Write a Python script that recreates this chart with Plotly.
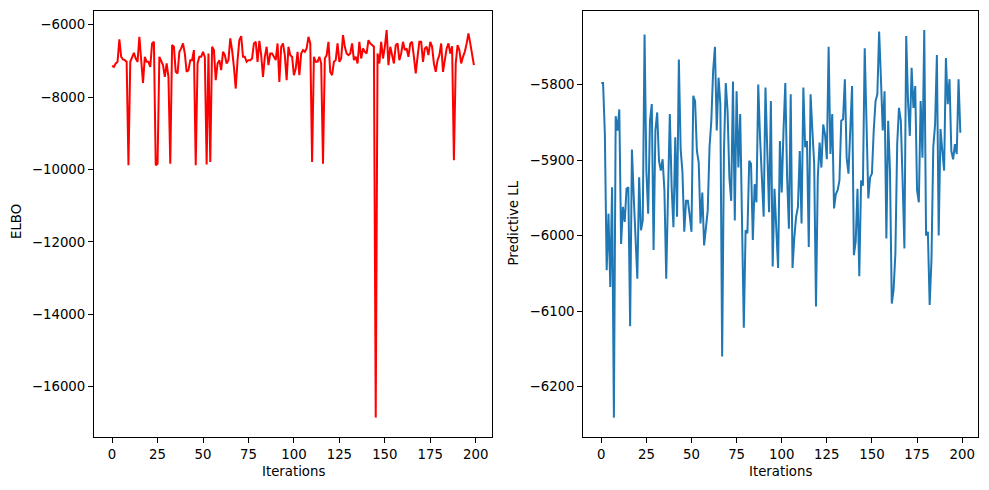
import plotly.graph_objects as go

iterations = list(range(200))

elbo = [
    -7140, -7166, -7074, -7028, -6410, -6890, -6964, -6982, -7028, -9886,
    -7028, -6890, -6779, -6936, -7028, -6337, -6982, -7609, -6890, -7028,
    -7028, -7166, -6521, -6475, -9886, -9840, -6890, -7028, -7120, -7443,
    -7074, -7443, -9840, -6567, -6613, -7305, -7351, -6752, -6659, -6521,
    -6798, -7305, -7259, -6982, -6982, -6705, -9886, -7074, -6890, -6890,
    -6752, -6890, -9859, -6798, -9794, -6613, -6705, -7535, -7074, -6982,
    -7259, -6752, -6844, -7074, -6982, -6383, -6705, -7166, -7766, -6982,
    -6429, -6318, -6890, -6890, -7028, -6982, -6982, -6936, -6521, -6475,
    -7028, -6447, -6844, -7443, -6890, -6613, -7120, -6798, -6798, -6890,
    -6982, -6521, -7581, -6613, -6521, -6844, -7535, -6613, -6844, -6890,
    -7397, -7213, -6752, -7397, -6798, -6705, -6752, -6659, -6337, -6521,
    -9794, -6890, -7028, -7028, -6890, -7074, -9840, -6936, -6844, -6475,
    -7305, -7397, -7028, -6982, -6521, -7028, -6936, -6291, -6613, -6798,
    -6844, -6798, -6521, -6982, -6890, -7074, -6475, -6936, -6659, -6752,
    -6798, -6429, -6521, -6567, -6613, -16850, -6798, -7074, -6475, -6936,
    -6613, -6152, -7120, -6613, -6890, -7074, -6567, -6521, -6982, -6798,
    -6475, -6705, -6659, -6890, -6521, -6475, -6890, -7351, -6890, -6475,
    -6475, -7028, -6659, -6613, -6844, -6475, -6613, -7074, -7305, -6982,
    -6844, -6521, -7305, -7028, -6659, -6521, -6798, -6600, -9748, -7074,
    -6567, -6705, -7074, -6890, -6752, -6521, -6244, -6521, -6798, -7120,
]

pred_ll = [
    -5798, -5798, -5866, -6046, -5971, -6068, -5936, -6241, -5842, -5861,
    -5833, -6011, -5962, -5982, -5938, -5936, -6120, -5886, -5949, -5997,
    -6057, -5923, -5993, -5980, -5734, -5914, -5971, -5848, -5826, -6019,
    -5861, -5837, -5901, -5914, -5899, -5940, -6057, -5945, -5839, -5936,
    -5989, -5870, -5975, -5767, -5886, -5916, -5995, -5954, -5954, -5973,
    -5995, -5815, -5822, -5888, -5903, -5984, -5943, -6013, -5989, -5967,
    -5883, -5848, -5782, -5750, -5861, -5791, -5826, -6160, -5888, -5798,
    -5835, -5923, -5954, -5796, -5980, -5809, -5910, -5839, -5980, -6122,
    -5993, -5997, -5901, -5905, -6006, -5932, -5956, -5800, -5870, -5932,
    -5975, -5804, -5901, -5969, -5822, -6041, -5938, -5993, -6043, -5875,
    -5943, -5861, -5798, -5923, -5991, -5813, -6043, -6002, -5975, -5962,
    -5888, -5984, -5804, -5883, -5875, -6015, -5813, -5861, -5905, -6094,
    -5923, -5877, -5910, -5853, -5866, -5899, -5750, -5892, -5839, -5964,
    -5945, -5940, -5927, -5848, -5846, -5793, -5897, -5918, -5861, -5802,
    -6026, -6008, -5938, -6054, -5927, -5934, -5752, -5857, -5951, -5923,
    -5918, -5861, -5822, -5813, -5730, -5793, -5861, -5809, -6004, -5848,
    -5914, -6090, -6072, -6024, -5879, -5831, -5848, -5927, -6017, -5736,
    -5822, -5868, -5778, -5831, -5802, -5940, -5956, -5822, -5897, -5728,
    -6000, -5995, -6092, -6032, -5883, -5853, -5761, -6000, -5859, -5888,
    -5914, -5765, -5826, -5793, -5888, -5899, -5879, -5892, -5793, -5864,
]

x_ticks = [0, 25, 50, 75, 100, 125, 150, 175, 200]
elbo_ticks = [-16000, -14000, -12000, -10000, -8000, -6000]
ll_ticks = [-6200, -6100, -6000, -5900, -5800]

W, H = 989, 490
FONT = "DejaVu Sans"
fs = 13.3

fig = go.Figure()
fig.add_trace(go.Scatter(x=iterations, y=elbo, mode="lines",
                         line=dict(color="#ff0000", width=2), xaxis="x", yaxis="y",
                         showlegend=False))
fig.add_trace(go.Scatter(x=iterations, y=pred_ll, mode="lines",
                         line=dict(color="#1f77b4", width=2), xaxis="x2", yaxis="y2",
                         showlegend=False))

def pad(lo, hi, f=0.05):
    r = hi - lo
    return [lo - f * r, hi + f * r]

xr = pad(min(iterations), max(iterations))
ax_common = dict(showline=True, linecolor="black", linewidth=1.1, mirror=True,
                 ticks="outside", ticklen=5, tickwidth=1.1, tickcolor="black",
                 showgrid=False, zeroline=False,
                 tickfont=dict(family=FONT, size=fs, color="black"))

ydom = [1 - 437 / H, 1 - 10.7 / H]
fig.update_layout(
    width=W, height=H,
    margin=dict(l=0, r=0, t=0, b=0),
    paper_bgcolor="white", plot_bgcolor="white",
    xaxis=dict(domain=[94 / W, 492 / W], range=xr, tickvals=x_ticks,
               anchor="y", **ax_common),
    yaxis=dict(domain=ydom, range=pad(min(elbo), max(elbo)), tickvals=elbo_ticks,
               tickformat="d", anchor="x", **ax_common),
    xaxis2=dict(domain=[583.3 / W, 978.3 / W], range=xr, tickvals=x_ticks,
                anchor="y2", **ax_common),
    yaxis2=dict(domain=ydom, range=pad(min(pred_ll), max(pred_ll)), tickvals=ll_ticks,
                tickformat="d", anchor="x2", **ax_common),
    annotations=[
        dict(text="Iterations", x=(94 + 492) / 2 / W, y=1 - 471 / H, xref="paper", yref="paper",
             showarrow=False, font=dict(family=FONT, size=fs, color="black"),
             xanchor="center", yanchor="middle"),
        dict(text="Iterations", x=(583.3 + 978.3) / 2 / W, y=1 - 471 / H, xref="paper", yref="paper",
             showarrow=False, font=dict(family=FONT, size=fs, color="black"),
             xanchor="center", yanchor="middle"),
        dict(text="ELBO", x=16 / W, y=1 - 222 / H, xref="paper", yref="paper",
             showarrow=False, textangle=-90, font=dict(family=FONT, size=fs, color="black"),
             xanchor="center", yanchor="middle"),
        dict(text="Predictive LL", x=512.5 / W, y=1 - 223 / H, xref="paper", yref="paper",
             showarrow=False, textangle=-90, font=dict(family=FONT, size=fs, color="black"),
             xanchor="center", yanchor="middle"),
    ],
)

fig.write_html("out.html")
